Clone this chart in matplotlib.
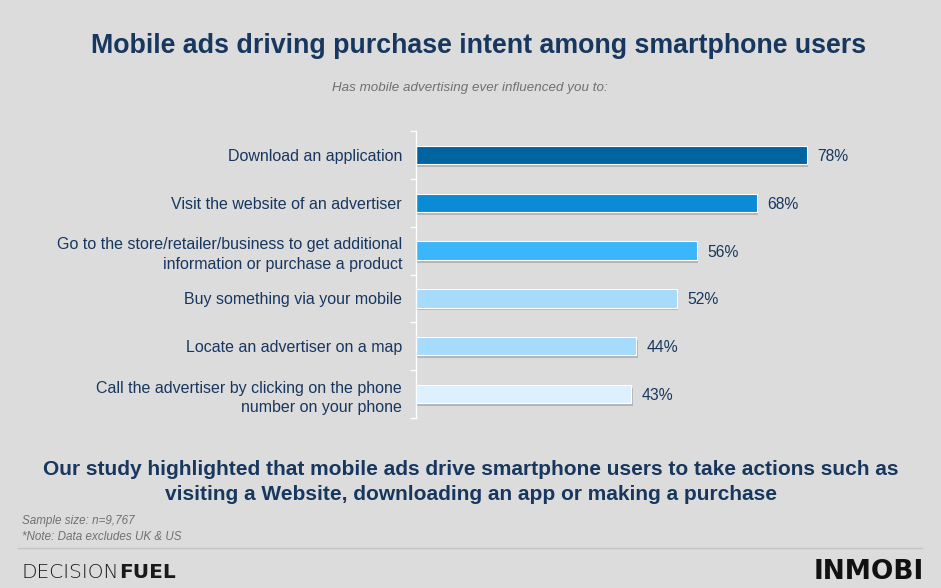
import os
import matplotlib.pyplot as plt
from matplotlib import font_manager as fm

'''Data'''
categories = ["Download an application",
              "Visit the website of an advertiser",
              "Go to the store/retailer/business to get additional\ninformation or purchase a product",
              "Buy something via your mobile",
              "Locate an advertiser on a map",
              "Call the advertiser by clicking on the phone\nnumber on your phone"]
values = [78, 68, 56, 52, 44, 43]
bar_colors = ["#0064a0", "#0a8bd3", "#3bb6fb", "#a7dbfb", "#a7dbfb", "#dcf0fd"]

navy = "#17375e"
grey_txt = "#707070"
bg = "#dcdcdc"

# pick the real Liberation Sans files (not the Narrow ones)
def lib_font(name):
    for f in fm.fontManager.ttflist:
        if os.path.basename(f.fname) == name:
            return fm.FontProperties(fname=f.fname)
    return fm.FontProperties(family="Liberation Sans")

f_reg = lib_font("LiberationSans-Regular.ttf")
f_bold = lib_font("LiberationSans-Bold.ttf")
f_ital = lib_font("LiberationSans-Italic.ttf")

fig = plt.figure(figsize=(9.41, 5.88), dpi=100, facecolor=bg)
ax = fig.add_axes([416/941, 1-418/588, 501/941, 287/588])
ax.set_facecolor(bg)

y = list(range(len(categories)))
# shadow under the bars
ax.barh([i + 0.06 for i in y], values, height=0.38, left=0.25, color="#b4b4b4", zorder=1)
ax.barh(y, values, height=0.38, color=bar_colors, edgecolor="white", linewidth=0.8, zorder=2)

for i, v in enumerate(values):
    ax.text(v + 2.1, i + 0.03, f"{v}%", va="center", ha="left", fontproperties=f_reg,
            fontsize=11.3, color=navy)

ax.set_xlim(0, 100)
ax.set_ylim(len(categories) - 0.5, -0.5)
ax.set_xticks([])
ax.set_yticks([i + 0.5 for i in range(-1, len(categories))])
ax.set_yticklabels([])
ax.tick_params(axis="y", length=4, color="white", width=1)
ax.set_yticks(y, minor=True)
ax.set_yticklabels(categories, minor=True, fontproperties=f_reg, ha="right",
                   linespacing=1.4)
for t in ax.get_yticklabels(minor=True):
    t.set_fontsize(11.5)
    t.set_color(navy)
ax.tick_params(axis="y", which="minor", length=0, pad=10)
for s in ["top", "right", "bottom"]:
    ax.spines[s].set_visible(False)
ax.spines["left"].set_color("white")
ax.spines["left"].set_linewidth(1)

fig.text(479/941, 1-46/588, "Mobile ads driving purchase intent among smartphone users",
         ha="center", va="center", fontproperties=f_bold, fontsize=19.3, color=navy)
fig.text(470/941, 1-88/588, "Has mobile advertising ever influenced you to:",
         ha="center", va="center", fontproperties=f_ital, fontsize=9.6, color=grey_txt)
fig.text(471/941, 1-482/588,
         "Our study highlighted that mobile ads drive smartphone users to take actions such as\n"
         "visiting a Website, downloading an app or making a purchase",
         ha="center", va="center", fontproperties=f_bold, fontsize=15, color=navy,
         linespacing=1.45)
fig.text(22/941, 1-521/588, "Sample size: n=9,767", ha="left", va="center",
         fontproperties=f_ital, fontsize=8.4, color=grey_txt)
fig.text(22/941, 1-537/588, "*Note: Data excludes UK & US", ha="left", va="center",
         fontproperties=f_ital, fontsize=8.4, color=grey_txt)
fig.add_artist(plt.Line2D([18/941, 922/941], [1-548/588, 1-548/588], color="#c4c4c4", lw=1))

# logos as text
t1 = fig.text(22/941, 1-572/588, "DECISION", ha="left", va="center", fontsize=14.5,
              color="#1a1a1a", family="DejaVu Sans", fontweight="light")
fig.canvas.draw()
x_end = t1.get_window_extent().x1 / fig.bbox.width
fig.text(x_end, 1-572/588, "FUEL", ha="left", va="center", fontsize=14.5,
         color="#1a1a1a", family="DejaVu Sans", fontweight="bold")
fig.text(924/941, 1-572/588, "INMOBI", ha="right", va="center", fontsize=19,
         color="#111111", family="DejaVu Sans", fontweight="bold")

fig.savefig("out.png", dpi=100, facecolor=bg)
